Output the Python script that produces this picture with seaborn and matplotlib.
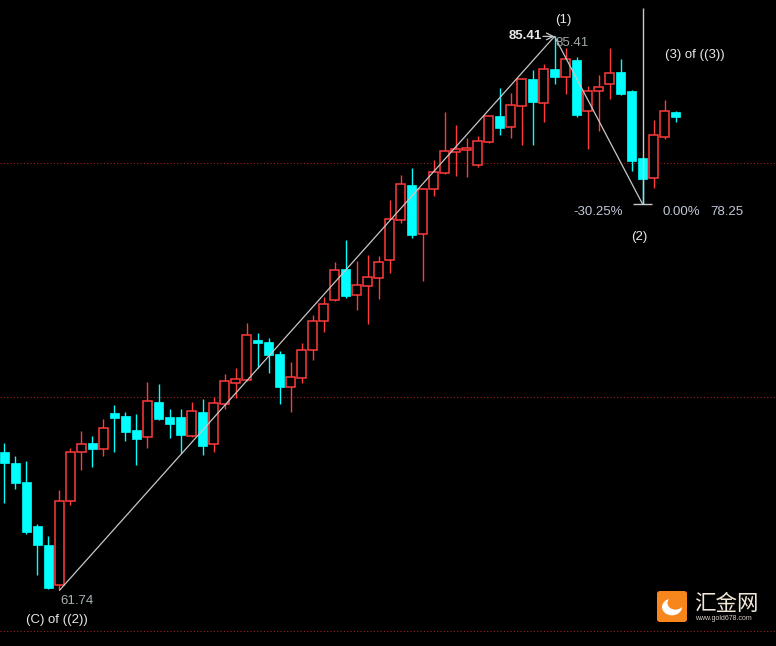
import numpy as np
import pandas as pd
import seaborn as sns
import matplotlib.pyplot as plt
from matplotlib.patches import FancyBboxPatch, Circle

# candle data
opens = [67.65, 67.19, 66.38, 64.49, 63.68, 61.95, 65.54, 67.64, 68.03, 67.76,
         69.32, 69.19, 68.59, 68.28, 69.79, 69.15, 69.15, 68.35, 69.36, 67.98,
         69.71, 70.62, 70.74, 72.45, 72.35, 71.84, 70.44, 70.82, 72.00, 73.24,
         74.16, 75.47, 74.37, 74.76, 75.10, 75.87, 77.58, 79.06, 76.98, 78.88,
         79.59, 80.48, 80.57, 79.93, 80.91, 82.01, 81.55, 82.45, 83.59, 82.58,
         84.02, 83.69, 84.40, 82.24, 83.09, 83.36, 83.89, 83.08, 80.23, 79.37,
         81.12, 82.18]
highs = [68.03, 67.48, 67.26, 64.57, 64.06, 66.03, 67.81, 68.55, 68.33, 69.06,
         69.66, 69.36, 69.27, 70.64, 70.56, 69.49, 69.49, 69.79, 69.91, 70.00,
         70.98, 71.24, 73.16, 72.74, 72.53, 71.97, 71.50, 72.32, 73.50, 74.27,
         75.77, 76.71, 75.81, 76.07, 76.03, 78.42, 79.49, 79.79, 78.92, 80.13,
         82.18, 81.62, 81.07, 81.15, 82.03, 83.21, 82.99, 83.62, 83.97, 84.23,
         85.41, 84.91, 84.53, 83.27, 83.76, 84.91, 84.44, 83.10, 80.25, 81.84,
         82.69, 82.22]
lows = [65.47, 66.08, 64.16, 62.41, 61.80, 61.74, 65.40, 66.89, 67.02, 67.49,
        67.66, 68.13, 67.11, 67.83, 69.02, 68.26, 67.62, 68.30, 67.53, 67.66,
        69.50, 69.97, 70.70, 71.23, 71.04, 69.71, 69.37, 70.61, 71.59, 72.79,
        74.10, 74.24, 73.72, 73.13, 74.20, 75.31, 77.45, 76.81, 74.97, 78.59,
        79.54, 79.46, 79.41, 79.83, 80.87, 81.21, 81.08, 80.78, 80.78, 81.76,
        83.39, 82.96, 81.98, 80.59, 81.38, 82.75, 82.92, 79.67, 78.25, 78.94,
        81.04, 81.76]
closes = [67.18, 66.34, 64.24, 63.69, 61.85, 65.56, 67.65, 67.99, 67.79, 68.66,
          69.12, 68.52, 68.22, 69.83, 69.06, 68.86, 68.39, 69.40, 67.92, 69.74,
          70.68, 70.77, 72.65, 72.32, 71.79, 70.44, 70.85, 72.01, 73.25, 73.97,
          75.43, 74.33, 74.79, 75.13, 75.77, 77.61, 79.10, 76.94, 78.89, 79.62,
          80.51, 80.60, 80.64, 80.94, 82.01, 81.51, 82.48, 83.59, 82.62, 84.02,
          83.69, 84.44, 82.06, 83.08, 83.25, 83.85, 82.96, 80.10, 79.33, 81.20,
          82.22, 81.98]

# wave points (bar index, price)
wave_idx = [5, 50, 58]
wave_price = [61.74, 85.41, 78.25]
grid_levels = [60, 70, 80]

df = pd.DataFrame({'open': opens, 'high': highs, 'low': lows, 'close': closes})
df['i'] = np.arange(len(df))
df['up'] = df['close'] >= df['open']

sns.set_theme(style='dark', rc={'axes.facecolor': 'black', 'figure.facecolor': 'black'})
plt.rcParams['font.family'] = ['Liberation Sans', 'DejaVu Sans']

RED = '#ff3c3c'
CYAN = '#00ffff'
LINE = '#c8c8c8'

fig = plt.figure(figsize=(7.76, 6.46), dpi=100)
ax = fig.add_axes([0, 0, 1, 1])
ax.set_facecolor('black')

# grid
for g in grid_levels:
    ax.axhline(g, color='#a02222', lw=0.8, ls=(0, (1, 2)), zorder=0)

# wicks
colors = np.where(df['up'], RED, CYAN)
ax.vlines(df['i'], df['low'], df['high'], colors=colors, lw=1.0, zorder=2)

# bodies
w = 0.8
body_lo = np.minimum(df['open'], df['close'])
body_h = np.maximum((df['close'] - df['open']).abs(), 0.05)
up = df[df['up']]
dn = df[~df['up']]
ax.bar(up['i'], body_h[df['up']], bottom=body_lo[df['up']], width=w,
       facecolor='black', edgecolor=RED, linewidth=1.1, zorder=3)
ax.bar(dn['i'], body_h[~df['up']], bottom=body_lo[~df['up']], width=w,
       facecolor=CYAN, edgecolor=CYAN, linewidth=0.5, zorder=3)

# wave lines
ax.plot(wave_idx, wave_price, color=LINE, lw=0.9, zorder=4)
ax.vlines(wave_idx[2], wave_price[2], 86.62, color=LINE, lw=1.0, zorder=4)
ax.hlines(wave_price[2], wave_idx[2] - 0.86, wave_idx[2] + 0.86, color=LINE, lw=1.0, zorder=4)
ax.annotate('', xy=(wave_idx[1], wave_price[1]), xytext=(wave_idx[1] - 1.05, wave_price[1]),
            arrowprops=dict(arrowstyle='->', color=LINE, lw=0.9, shrinkA=0, shrinkB=0), zorder=5)

# labels
txt = dict(fontsize=9.5, zorder=6)
ax.text(wave_idx[0] + 0.05, wave_price[0] - 0.45, '61.74', color='#a8b4b8', ha='left', va='center', **txt)
ax.text(4.77, 60.49, '(C) of ((2))', color='#e8e8e8', ha='center', va='center', **txt)
ax.text(wave_idx[1] - 1.15, wave_price[1], '85.41', color='#e8e8e8', ha='right', va='center',
        fontweight='bold', **txt)
ax.text(wave_idx[1] + 0.05, wave_price[1] - 0.27, '85.41', color='#a0a8a8', ha='left', va='center', **txt)
ax.text(50.77, 86.11, '(1)', color='#e8e8e8', ha='center', va='center', **txt)
ax.text(62.77, 84.62, '(3) of ((3))', color='#e8e8e8', ha='center', va='center', **txt)
ax.text(53.95, 77.92, '-30.25%', color='#c0c8d8', ha='center', va='center', **txt)
ax.text(61.5, 77.92, '0.00%', color='#c0c8d8', ha='center', va='center', **txt)
ax.text(65.68, 77.92, '78.25', color='#c0c8d8', ha='center', va='center', **txt)
ax.text(57.68, 76.82, '(2)', color='#e8e8e8', ha='center', va='center', **txt)

ax.set_xlim(-0.409, 70.136)
ax.set_ylim(59.36, 86.966)
ax.set_xticks([])
ax.set_yticks([])
for s in ax.spines.values():
    s.set_visible(False)

# watermark logo
W, H = 776, 646
box = FancyBboxPatch((657 / W, 1 - 622 / H), 30 / W, 31 / H,
                     boxstyle='round,pad=0,rounding_size=0.004',
                     transform=fig.transFigure, facecolor='#f7861c', edgecolor='none', zorder=10)
fig.patches.append(box)
c1 = Circle((672 / W, 1 - 607 / H), 10 / W, transform=fig.transFigure,
            facecolor='white', edgecolor='none', zorder=11)
c2 = Circle((675.5 / W, 1 - 603 / H), 8 / W, transform=fig.transFigure,
            facecolor='#f7861c', edgecolor='none', zorder=12)
fig.patches.extend([c1, c2])
fig.text(694 / W, 1 - 604 / H, '汇金网', color='#f2e8da', fontsize=15.5, ha='left', va='center',
         family=['Noto Sans CJK SC', 'DejaVu Sans'])
fig.text(695 / W, 1 - 619 / H, 'www.gold678.com', color='#d8d0c8', fontsize=5, ha='left', va='center')

fig.savefig('out.png', dpi=100, facecolor='black')
